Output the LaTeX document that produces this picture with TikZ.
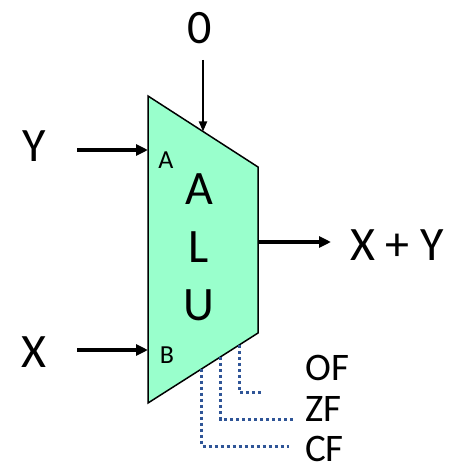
\documentclass[tikz,border=0pt]{standalone}
\usepackage{fontspec}
\setmainfont{Carlito}
\usetikzlibrary{arrows.meta, calc}
\definecolor{AluGreen}{RGB}{153, 255, 204}
\definecolor{FlagBlue}{RGB}{47, 85, 151}

\begin{document}
\begin{tikzpicture}[x=1pt, y=-1pt,
    sig/.style={font=\fontsize{48}{48}\selectfont, inner sep=0pt},
    port/.style={font=\fontsize{26}{26}\selectfont, inner sep=0pt},
    flag/.style={font=\fontsize{39}{39}\selectfont, inner sep=0pt, anchor=west},
    bus/.style={line width=4pt, -{Triangle[length=12pt, width=11pt]}},
    wire/.style={line width=1.8pt, -{Triangle[length=10pt, width=8pt]}},
    flagline/.style={FlagBlue, line width=3pt, dash pattern=on 3pt off 3pt}]
    \useasboundingbox (0,0) rectangle (450,470);

    % ALU body
    \coordinate (tl) at (148,96);
    \coordinate (tr) at (258,167);
    \coordinate (br) at (258,333);
    \coordinate (bl) at (148,403);
    \draw[fill=AluGreen, line width=1.5pt, line join=miter] (tl) -- (tr) -- (br) -- (bl) -- cycle;
    \node[sig] (la) at (199,189) {A};
    \node[sig] (ll) at (199,247) {L};
    \node[sig] (lu) at (199,305) {U};
    \node[port] (pa) at (166,160) {A};
    \node[port] (pb) at (167,355) {B};

    % Inputs
    \node[sig] (zero) at (200,28) {0};
    \node[sig] (y) at (34,146) {Y};
    \node[sig] (x) at (34,352) {X};
    \coordinate (zsrc) at (203,60);
    \coordinate (zin) at ($(tl)!0.5!(tr)$);
    \coordinate (ysrc) at (77,150);
    \coordinate (yin) at (148,150);
    \coordinate (xsrc) at (77,350);
    \coordinate (xin) at (148,350);
    \draw[wire] (zsrc) -- (zin);
    \draw[bus] (ysrc) -- (yin);
    \draw[bus] (xsrc) -- (xin);

    % Output
    \node[sig] (sum) at (397,245) {X + Y};
    \coordinate (out) at (258,242);
    \coordinate (outend) at (331,242);
    \draw[bus] (out) -- (outend);

    % Flags
    \node[flag] (of) at (305,368) {OF};
    \node[flag] (zf) at (305,409) {ZF};
    \node[flag] (cf) at (305,449) {CF};
    \coordinate (ofsrc) at ($(bl)!0.83!(br)$);
    \coordinate (zfsrc) at ($(bl)!0.66!(br)$);
    \coordinate (cfsrc) at ($(bl)!0.49!(br)$);
    \coordinate (ofend) at (261,392);
    \coordinate (zfend) at (293,419);
    \coordinate (cfend) at (289,446);
    \draw[flagline] (ofsrc) |- (ofend);
    \draw[flagline] (zfsrc) |- (zfend);
    \draw[flagline] (cfsrc) |- (cfend);
\end{tikzpicture}
\end{document}
